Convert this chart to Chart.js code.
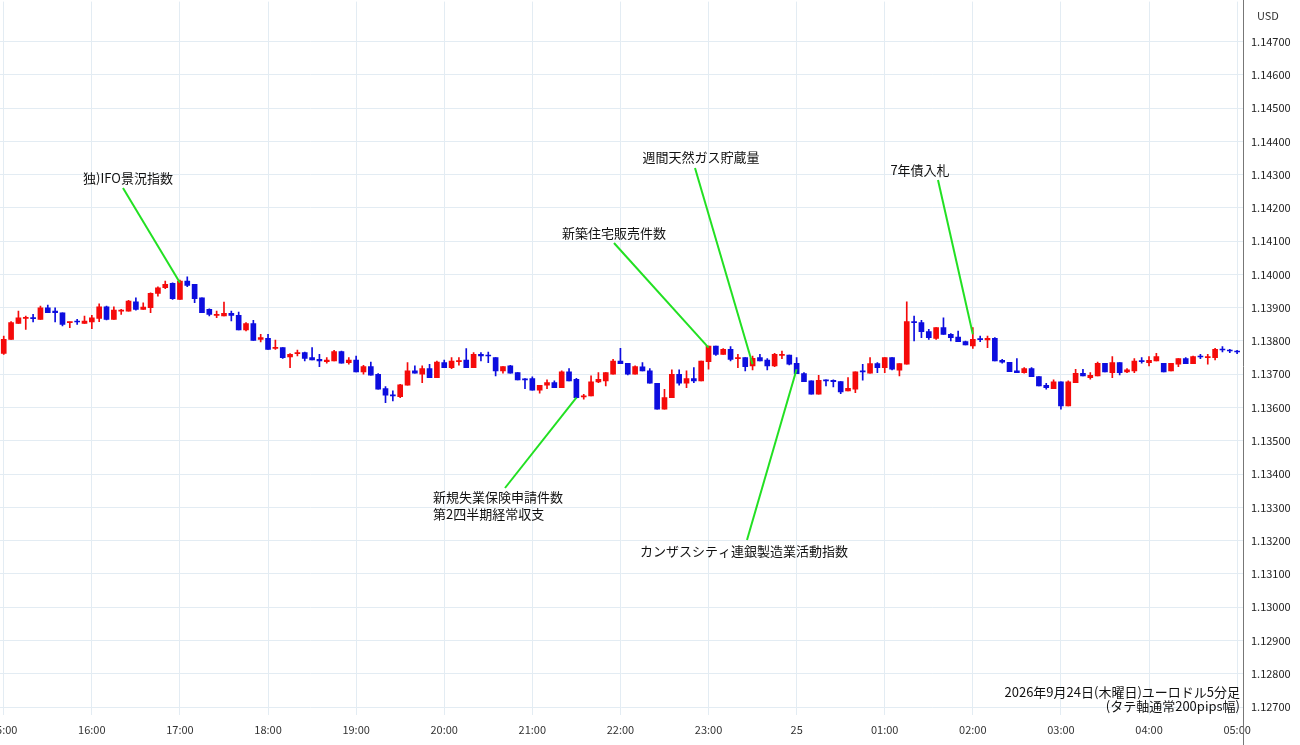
<!DOCTYPE html>
<html>
<head>
<meta charset="utf-8">
<script src="https://cdn.jsdelivr.net/npm/chart.js@4/dist/chart.umd.min.js"></script>
<style>
  html, body { margin: 0; padding: 0; background: #fff; overflow: hidden; }
  #wrap { width: 1300px; height: 745px; position: relative; overflow: hidden; }
  #inner { position: absolute; left: -18px; top: -13px; width: 1318px; height: 758px; }
</style>
</head>
<body>
<div id="wrap"><div id="inner"><canvas id="chart"></canvas></div></div>
<script>
// prices are stored as 1e-5 steps above 1.13000
const BASE = 1.13;
const opens = [763,805,853,868,870,865,900,890,885,855,860,853,857,868,903,865,890,890,918,895,900,943,960,973,925,980,970,930,895,877,
  875,883,877,833,852,805,808,778,780,752,762,765,750,745,738,740,768,735,743,707,723,700,657,637,633,667,710,700,717,690,
  735,720,738,743,720,760,757,750,710,725,705,685,687,652,667,675,660,707,685,632,635,677,680,700,740,733,700,722,710,673,
  595,630,700,673,687,680,738,785,760,775,747,750,725,750,743,725,757,758,733,702,680,640,682,682,678,650,655,708,703,732,
  720,750,712,730,857,855,828,808,840,820,812,798,785,805,803,808,742,736,710,705,717,693,667,657,677,605,675,703,690,695,
  733,705,735,707,710,740,735,740,733,710,730,747,732,753,750,750,775,773,770];
const closes = [805,855,870,870,867,900,885,885,850,857,857,860,870,903,865,893,893,920,895,902,943,960,970,927,980,967,927,885,880,880,
  883,877,833,852,802,810,775,780,750,760,765,748,743,740,743,768,733,743,707,723,697,655,637,635,668,710,703,717,690,737,
  720,740,740,720,760,755,755,710,723,703,683,683,652,667,675,660,707,680,630,635,677,685,705,740,732,700,723,710,673,595,
  630,700,673,687,680,740,785,760,775,745,748,723,748,740,725,760,758,730,702,678,640,682,680,678,647,658,707,707,732,720,
  750,715,732,858,855,828,810,840,820,810,798,788,805,804,808,740,736,708,705,717,693,665,660,677,605,677,703,695,697,733,
  707,735,705,713,740,738,742,753,707,733,747,732,753,752,753,775,773,770,767];
const highs = [815,858,890,875,880,905,908,900,885,857,865,875,877,912,905,903,895,922,930,915,945,963,980,975,983,993,970,930,897,890,
  917,890,887,855,862,820,820,803,780,762,773,767,780,760,750,772,770,750,755,727,737,702,663,650,670,735,725,725,730,740,
  743,750,750,777,765,765,767,750,723,727,705,687,692,667,683,680,710,717,688,640,695,705,705,745,778,733,725,735,717,673,
  655,713,713,710,720,740,785,785,777,783,760,750,755,760,747,763,770,758,750,705,680,697,683,683,678,690,707,730,750,735,
  750,750,732,918,875,862,835,840,870,822,830,800,840,815,815,810,745,736,747,720,720,693,673,683,677,680,715,715,705,737,
  733,753,735,717,747,750,753,763,733,733,747,750,755,760,760,778,783,775,772];
const lows = [760,805,853,835,857,865,885,857,845,840,850,853,837,858,863,865,880,890,893,895,885,935,957,925,925,963,915,885,875,870,
  875,860,833,830,802,797,775,775,748,720,755,740,743,723,733,740,733,730,707,700,697,655,615,620,630,667,703,675,690,690,
  720,717,727,720,720,740,735,695,703,703,683,657,652,643,657,660,660,680,628,625,635,675,665,700,732,698,700,710,673,595,
  595,630,667,660,675,680,715,757,760,740,720,710,713,740,713,723,747,728,702,678,640,640,665,662,642,650,645,682,703,705,
  705,713,695,730,800,810,805,805,820,800,798,788,778,798,780,740,733,708,705,703,693,665,655,657,595,605,675,695,685,695,
  707,690,698,705,705,733,725,740,707,710,723,732,732,747,730,743,767,765,762];

const hourLabels = ['15:00','16:00','17:00','18:00','19:00','20:00','21:00','22:00','23:00','25','01:00','02:00','03:00','04:00','05:00'];
const priceTicks = [1.127,1.128,1.129,1.130,1.131,1.132,1.133,1.134,1.135,1.136,1.137,1.138,1.139,1.140,1.141,1.142,1.143,1.144,1.145,1.146,1.147];

// event notes: candle index, price, text lines, text position and anchor of the line (page pixels)
const notes = [
  { i: 24, p: 1.13975, lines: ['独)IFO景況指数'], tx: 128, ty: 178, ax: 123, ay: 188 },
  { i: 78, p: 1.13630, lines: ['新規失業保険申請件数', '第2四半期経常収支'], tx: 433, ty: 497, ax: 505, ay: 488, left: true },
  { i: 96, p: 1.13780, lines: ['新築住宅販売件数'], tx: 614, ty: 233, ax: 614, ay: 243 },
  { i: 102, p: 1.13730, lines: ['週間天然ガス貯蔵量'], tx: 701, ty: 157, ax: 695, ay: 168 },
  { i: 108, p: 1.13715, lines: ['カンザスシティ連銀製造業活動指数'], tx: 744, ty: 551, ax: 747, ay: 540 },
  { i: 132, p: 1.13820, lines: ['7年債入札'], tx: 920, ty: 170, ax: 938, ay: 180 }
];

const OX = 18, OY = 13;
const RED = '#f50a0a', BLUE = '#0d0ddf';
const px = v => BASE + v / 100000;
const col = opens.map((o, k) => closes[k] >= o ? RED : BLUE);
const wicks = opens.map((o, k) => ({ x: k, y: [px(lows[k]), px(highs[k])] }));
const bodies = opens.map((o, k) => ({ x: k, y: [px(Math.min(o, closes[k])), px(Math.max(o, closes[k]))] }));

const FONT = '"Noto Sans CJK JP", "Noto Sans", sans-serif';

const overlay = {
  id: 'overlay',
  afterDraw(chart) {
    const { ctx, scales: { x, y } } = chart;
    ctx.save();
    ctx.strokeStyle = '#22e022';
    ctx.lineWidth = 2;
    ctx.fillStyle = '#111';
    ctx.font = '13px ' + FONT;
    ctx.textBaseline = 'middle';
    notes.forEach(n => {
      ctx.beginPath();
      ctx.moveTo(n.ax + OX, n.ay + OY);
      ctx.lineTo(x.getPixelForValue(n.i), y.getPixelForValue(n.p));
      ctx.stroke();
      ctx.textAlign = n.left ? 'left' : 'center';
      n.lines.forEach((t, k) => ctx.fillText(t, n.tx + OX, n.ty + OY + k * 17));
    });
    ctx.textAlign = 'right';
    ctx.fillText('2026年9月24日(木曜日)ユーロドル5分足', 1240 + OX, 692 + OY);
    ctx.fillText('(タテ軸通常200pips幅)', 1240 + OX, 706 + OY);
    ctx.textAlign = 'left';
    ctx.font = '11px ' + FONT;
    ctx.fillStyle = '#333';
    ctx.fillText('USD', 1257 + OX, 16 + OY);
    ctx.strokeStyle = '#777';
    ctx.lineWidth = 1;
    ctx.beginPath();
    ctx.moveTo(chart.chartArea.right + 0.5, 0);
    ctx.lineTo(chart.chartArea.right + 0.5, 760);
    ctx.stroke();
    ctx.restore();
  }
};

new Chart(document.getElementById('chart'), {
  type: 'bar',
  data: {
    datasets: [
      { data: wicks, backgroundColor: col, barThickness: 1, grouped: false, order: 2 },
      { data: bodies, backgroundColor: col, barThickness: 5, grouped: false, minBarLength: 1, order: 1 }
    ]
  },
  options: {
    responsive: true,
    maintainAspectRatio: false,
    animation: false,
    plugins: { legend: { display: false }, tooltip: { enabled: false } },
    scales: {
      x: {
        type: 'linear',
        offset: false,
        min: -0.55,
        max: 168.8,
        afterBuildTicks: s => { s.ticks = hourLabels.map((h, k) => ({ value: k * 12 })); },
        afterFit: s => { s.height = 30; },
        ticks: {
          autoSkip: false, maxRotation: 0, color: '#333', padding: 8,
          font: { size: 11, family: FONT },
          callback: (v) => hourLabels[Math.round(v / 12)]
        },
        grid: { color: '#e3ecf3', drawTicks: false, offset: false },
        border: { display: false }
      },
      y: {
        position: 'right',
        min: 1.12676,
        max: 1.1482,
        afterBuildTicks: s => { s.ticks = priceTicks.map(v => ({ value: v })); },
        afterFit: s => { s.width = 57; },
        ticks: {
          color: '#222', padding: 8,
          font: { size: 11, family: FONT },
          callback: v => v.toFixed(5)
        },
        grid: { color: '#e3ecf3', drawTicks: false },
        border: { display: false }
      }
    }
  },
  plugins: [overlay]
});
</script>
</body>
</html>
